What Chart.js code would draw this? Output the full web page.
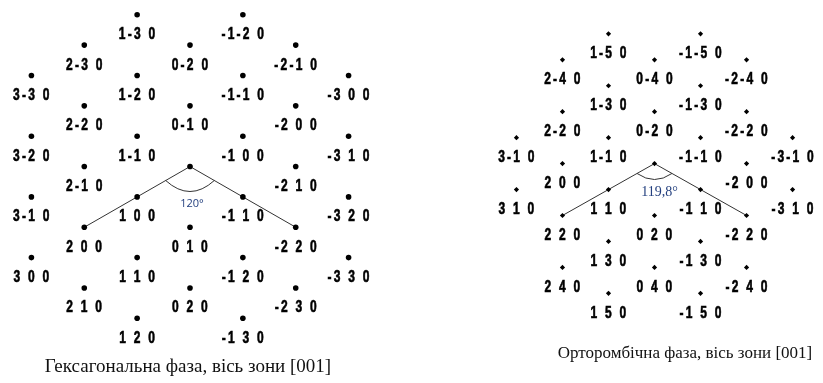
<!DOCTYPE html>
<html>
<head>
<meta charset="utf-8">
<script src="https://cdn.jsdelivr.net/npm/chart.js@4.4.1/dist/chart.umd.min.js"></script>
<style>
    body { margin: 0; background: #fff; }
    #wrap { position: relative; width: 823px; height: 383px; overflow: hidden; }
    .pane { position: absolute; top: 0; }
    .caption {
        position: absolute;
        font-family: "Liberation Serif", "Times New Roman", serif;
        color: #111;
        white-space: nowrap;
        transform: translate(-50%, -50%);
    }
</style>
</head>
<body>
<div id="wrap">
    <div class="pane" style="left:0px;"><canvas id="hexChart" width="380" height="383"></canvas></div>
    <div class="pane" style="left:440px;"><canvas id="orthoChart" width="383" height="383"></canvas></div>
    <div class="caption" style="left:188px; top:366px; font-size:19px;">Гексагональна фаза, вісь зони [001]</div>
    <div class="caption" style="left:685px; top:353px; font-size:17px;">Орторомбічна фаза, вісь зони [001]</div>
</div>

<script>
// ---------- DATA: HEXAGONAL PATTERN (column, row; row up) ----------
const hexLabels = [
    "1-3 0", "-1-2 0",
    "2-3 0", "0-2 0", "-2-1 0",
    "3-3 0", "1-2 0", "-1-1 0", "-3 0 0",
    "2-2 0", "0-1 0", "-2 0 0",
    "3-2 0", "1-1 0", "-1 0 0", "-3 1 0",
    "2-1 0", "", "-2 1 0",
    "3-1 0", "1 0 0", "-1 1 0", "-3 2 0",
    "2 0 0", "0 1 0", "-2 2 0",
    "3 0 0", "1 1 0", "-1 2 0", "-3 3 0",
    "2 1 0", "0 2 0", "-2 3 0",
    "1 2 0", "-1 3 0"
];
const hexX = [
    -1, 1,
    -2, 0, 2,
    -3, -1, 1, 3,
    -2, 0, 2,
    -3, -1, 1, 3,
    -2, 0, 2,
    -3, -1, 1, 3,
    -2, 0, 2,
    -3, -1, 1, 3,
    -2, 0, 2,
    -1, 1
];
const hexY = [
    5, 5,
    4, 4, 4,
    3, 3, 3, 3,
    2, 2, 2,
    1, 1, 1, 1,
    0, 0, 0,
    -1, -1, -1, -1,
    -2, -2, -2,
    -3, -3, -3, -3,
    -4, -4, -4,
    -5, -5
];
// 2 0 0 -> origin -> -2 2 0
const hexLineX = [-2, 0, 2];
const hexLineY = [-2, 0, -2];
const hexAngle = "120°";

// ---------- DATA: ORTHORHOMBIC PATTERN ----------
const orthoLabels = [
    "1-5 0", "-1-5 0",
    "2-4 0", "0-4 0", "-2-4 0",
    "1-3 0", "-1-3 0",
    "2-2 0", "0-2 0", "-2-2 0",
    "3-1 0", "1-1 0", "-1-1 0", "-3-1 0",
    "2 0 0", "", "-2 0 0",
    "3 1 0", "1 1 0", "-1 1 0", "-3 1 0",
    "2 2 0", "0 2 0", "-2 2 0",
    "1 3 0", "-1 3 0",
    "2 4 0", "0 4 0", "-2 4 0",
    "1 5 0", "-1 5 0"
];
const orthoX = [
    -1, 1,
    -2, 0, 2,
    -1, 1,
    -2, 0, 2,
    -3, -1, 1, 3,
    -2, 0, 2,
    -3, -1, 1, 3,
    -2, 0, 2,
    -1, 1,
    -2, 0, 2,
    -1, 1
];
const orthoY = [
    5, 5,
    4, 4, 4,
    3, 3,
    2, 2, 2,
    1, 1, 1, 1,
    0, 0, 0,
    -1, -1, -1, -1,
    -2, -2, -2,
    -3, -3,
    -4, -4, -4,
    -5, -5
];
// 2 2 0 -> origin -> -2 2 0
const orthoLineX = [-2, 0, 2];
const orthoLineY = [-2, 0, -2];
const orthoAngle = "119,8°";

// ---------- HELPERS ----------
function toPoints(xs, ys) {
    return xs.map((x, i) => ({ x: x, y: ys[i] }));
}

// hkl labels under each spot (squeezed sideways, like the bitmap font)
const hklLabelPlugin = {
    id: 'hklLabels',
    afterDatasetsDraw(chart, args, opts) {
        const ctx = chart.ctx;
        const meta = chart.getDatasetMeta(0);
        meta.data.forEach((el, i) => {
            const txt = opts.labels[i];
            if (!txt) return;
            ctx.save();
            ctx.font = opts.font;
            ctx.fillStyle = '#000';
            ctx.strokeStyle = '#000';
            ctx.lineWidth = opts.weight;
            ctx.textAlign = 'center';
            ctx.textBaseline = 'middle';
            if ('letterSpacing' in ctx) ctx.letterSpacing = opts.spacing;
            ctx.translate(el.x + opts.dx, el.y + opts.dy);
            ctx.scale(opts.squeeze, 1);
            ctx.fillText(txt, 0, 0);
            ctx.strokeText(txt, 0, 0);
            ctx.restore();
        });
    }
};

// angle arc between the two line segments + its value
const angleArcPlugin = {
    id: 'angleArc',
    afterDatasetsDraw(chart, args, opts) {
        const pts = chart.getDatasetMeta(1).data;
        if (pts.length < 3) return;
        const a = pts[0], o = pts[1], b = pts[2];
        const f = opts.fraction;
        const ctx = chart.ctx;
        ctx.save();
        ctx.strokeStyle = '#333';
        ctx.lineWidth = 1;
        ctx.beginPath();
        ctx.moveTo(o.x + (a.x - o.x) * f, o.y + (a.y - o.y) * f);
        ctx.quadraticCurveTo(o.x, o.y + opts.sag, o.x + (b.x - o.x) * f, o.y + (b.y - o.y) * f);
        ctx.stroke();
        ctx.font = opts.font;
        ctx.fillStyle = opts.color;
        ctx.textAlign = 'center';
        ctx.textBaseline = 'middle';
        ctx.fillText(opts.text, o.x + opts.textDx, o.y + opts.textDy);
        ctx.restore();
    }
};

// ---------- CHARTS ----------
function drawPattern(canvasId, cfg) {
    const ctx = document.getElementById(canvasId).getContext('2d');
    return new Chart(ctx, {
        type: 'scatter',
        data: {
            datasets: [{
                data: toPoints(cfg.xs, cfg.ys),
                pointStyle: cfg.pointStyle,
                pointRadius: cfg.pointRadius,
                backgroundColor: '#000',
                borderColor: '#000',
                borderWidth: 0,
                clip: false
            }, {
                type: 'line',
                data: toPoints(cfg.lineX, cfg.lineY),
                borderColor: '#333',
                borderWidth: 1,
                pointRadius: 0,
                fill: false,
                clip: false
            }]
        },
        options: {
            responsive: false,
            animation: false,
            layout: { padding: 0 },
            scales: {
                x: { type: 'linear', display: false, min: cfg.xMin, max: cfg.xMax },
                y: { type: 'linear', display: false, min: cfg.yMin, max: cfg.yMax }
            },
            plugins: {
                legend: { display: false },
                tooltip: { enabled: false },
                hklLabels: {
                    labels: cfg.labels,
                    font: 'bold 16px "Liberation Sans", Arial, sans-serif',
                    spacing: '3px',
                    squeeze: 0.75,
                    weight: 0.6,
                    dx: 1,
                    dy: 20
                },
                angleArc: cfg.angle
            }
        },
        plugins: [hklLabelPlugin, angleArcPlugin]
    });
}

// ---------- START ----------
drawPattern('hexChart', {
    xs: hexX, ys: hexY, labels: hexLabels,
    lineX: hexLineX, lineY: hexLineY,
    pointStyle: 'circle', pointRadius: 2.8,
    xMin: -190 / 54, xMax: 190 / 54,
    yMin: (166 - 383) / 31, yMax: 166 / 31,
    angle: {
        fraction: 0.23, sag: 36, text: hexAngle,
        font: '11px "Open Sans", "Liberation Sans", sans-serif', color: '#24407f',
        textDx: 2, textDy: 37
    }
});

drawPattern('orthoChart', {
    xs: orthoX, ys: orthoY, labels: orthoLabels,
    lineX: orthoLineX, lineY: orthoLineY,
    pointStyle: 'rectRot', pointRadius: 2.6,
    xMin: -215 / 47, xMax: 168 / 47,
    yMin: (163 - 383) / 26.5, yMax: 163 / 26.5,
    angle: {
        fraction: 0.19, sag: 22, text: orthoAngle,
        font: '14px "Liberation Serif", serif', color: '#24407f',
        textDx: 5, textDy: 29
    }
});
</script>
</body>
</html>
